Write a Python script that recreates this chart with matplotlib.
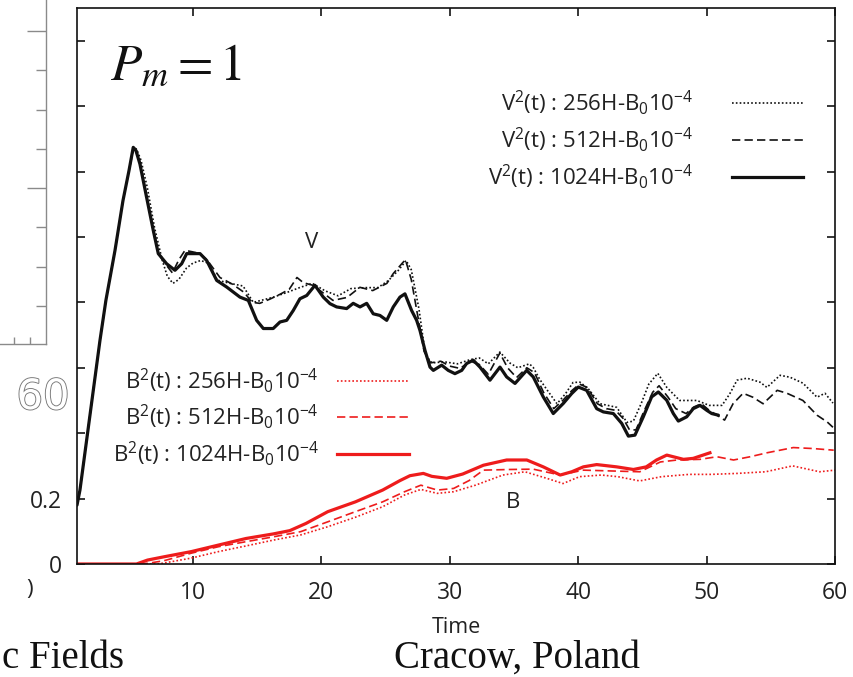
import matplotlib
matplotlib.use("Agg")
import matplotlib.pyplot as plt
import matplotlib.patheffects as pe
from matplotlib.lines import Line2D

plt.rcParams['font.family'] = ['Open Sans', 'DejaVu Sans']
plt.rcParams['mathtext.fontset'] = 'custom'
plt.rcParams['mathtext.rm'] = 'Open Sans'
plt.rcParams['mathtext.it'] = 'Open Sans:italic'
plt.rcParams['mathtext.bf'] = 'Open Sans:bold'

# ---------------------------------------------------------------- data
# kinetic energy V^2(t), (time, value)
v256 = [(0.97, 0.180), (1.2, 0.226), (1.98, 0.455), (2.76, 0.684), (3.22, 0.806),
        (3.93, 0.959), (4.55, 1.111), (5.02, 1.203), (5.40, 1.274), (5.62, 1.268),
        (5.95, 1.235), (6.45, 1.150), (7.0, 1.030), (7.6, 0.930), (8.0, 0.880),
        (8.44, 0.858), (8.9, 0.870), (9.5, 0.905), (10.0, 0.920), (10.6, 0.928),
        (11.2, 0.920), (11.9, 0.868), (12.9, 0.858), (13.9, 0.850), (14.7, 0.800),
        (15.2, 0.805), (16.2, 0.815), (17.3, 0.830), (18.3, 0.845), (19.3, 0.858),
        (20.3, 0.835), (21.3, 0.820), (22.3, 0.842), (23.4, 0.845), (24.4, 0.845),
        (25.2, 0.866), (26.0, 0.898), (26.6, 0.928), (27.0, 0.900), (27.6, 0.780),
        (28.1, 0.640), (28.6, 0.615), (29.6, 0.618), (30.6, 0.612), (31.6, 0.625),
        (32.3, 0.630), (33.0, 0.612), (33.9, 0.648), (34.7, 0.614), (35.3, 0.600),
        (36.2, 0.612), (36.5, 0.601), (37.0, 0.565), (37.6, 0.531), (38.35, 0.490),
        (39.0, 0.520), (39.6, 0.555), (40.14, 0.556), (40.8, 0.535), (41.7, 0.490),
        (42.3, 0.485), (43.0, 0.479), (43.8, 0.433), (44.3, 0.437), (44.9, 0.490),
        (45.5, 0.550), (46.2, 0.583), (46.9, 0.540), (47.9, 0.500), (49.25, 0.500),
        (50.2, 0.485), (51.2, 0.485), (51.8, 0.520), (52.37, 0.562), (53.15, 0.568),
        (54.16, 0.556), (54.7, 0.540), (55.72, 0.577), (56.5, 0.571), (57.5, 0.553),
        (58.6, 0.510), (59.22, 0.522), (59.84, 0.492)]

v512 = [(0.97, 0.180), (1.2, 0.226), (1.98, 0.455), (2.76, 0.684), (3.22, 0.806),
        (3.93, 0.959), (4.55, 1.111), (5.02, 1.203), (5.38, 1.274), (5.6, 1.265),
        (5.9, 1.225), (6.4, 1.125), (6.9, 1.020), (7.3, 0.950), (7.8, 0.920),
        (8.4, 0.890), (8.9, 0.930), (9.38, 0.959), (9.9, 0.955), (10.5, 0.950),
        (11.1, 0.930), (12.1, 0.876), (13.1, 0.855), (14.0, 0.830), (14.6, 0.800),
        (15.2, 0.797), (16.0, 0.810), (16.8, 0.825), (17.5, 0.840), (18.1, 0.876),
        (18.6, 0.860), (19.35, 0.852), (20.1, 0.830), (20.9, 0.806), (22.0, 0.815),
        (23.0, 0.846), (24.0, 0.836), (25.1, 0.858), (25.6, 0.888), (26.35, 0.922),
        (26.55, 0.930), (27.0, 0.870), (27.5, 0.760), (28.0, 0.650), (28.5, 0.615),
        (29.3, 0.620), (30.0, 0.605), (30.8, 0.598), (31.6, 0.620), (32.3, 0.610),
        (33.0, 0.580), (33.9, 0.645), (34.5, 0.600), (35.2, 0.570), (36.0, 0.600),
        (36.6, 0.585), (37.3, 0.525), (38.1, 0.475), (38.8, 0.500), (39.5, 0.530),
        (40.1, 0.550), (40.7, 0.540), (41.5, 0.490), (42.2, 0.475), (42.9, 0.470),
        (43.5, 0.445), (44.0, 0.410), (44.5, 0.410), (45.1, 0.465), (45.8, 0.525),
        (46.3, 0.545), (47.0, 0.510), (47.6, 0.475), (48.4, 0.460), (49.0, 0.480),
        (49.6, 0.490), (50.2, 0.470), (51.04, 0.449), (51.4, 0.440), (52.06, 0.490),
        (52.84, 0.522), (53.6, 0.510), (54.4, 0.490), (55.5, 0.531), (56.26, 0.522),
        (57.5, 0.500), (58.6, 0.455), (59.4, 0.434), (59.84, 0.418)]

v1024 = [(0.97, 0.180), (1.2, 0.226), (1.98, 0.455), (2.76, 0.684), (3.22, 0.806),
         (3.93, 0.959), (4.55, 1.111), (5.02, 1.203), (5.35, 1.274), (5.56, 1.264),
         (5.87, 1.223), (6.39, 1.121), (6.91, 1.020), (7.30, 0.949), (7.95, 0.918),
         (8.60, 0.898), (9.12, 0.918), (9.51, 0.949), (10.55, 0.949), (11.07, 0.928),
         (11.85, 0.867), (12.62, 0.847), (13.66, 0.816), (14.31, 0.806), (14.96, 0.745),
         (15.48, 0.720), (16.25, 0.720), (16.78, 0.740), (17.30, 0.745), (17.81, 0.775),
         (18.33, 0.811), (18.86, 0.821), (19.50, 0.852), (20.15, 0.816), (20.67, 0.796),
         (21.19, 0.786), (21.97, 0.781), (22.48, 0.797), (23.01, 0.786), (23.53, 0.797),
         (24.04, 0.765), (24.56, 0.760), (25.09, 0.745), (25.60, 0.786), (26.12, 0.816),
         (26.51, 0.826), (27.03, 0.775), (27.42, 0.745), (27.68, 0.714), (28.07, 0.653),
         (28.46, 0.602), (28.72, 0.592), (29.37, 0.608), (29.88, 0.592), (30.40, 0.582),
         (30.93, 0.592), (31.31, 0.613), (31.83, 0.623), (32.35, 0.602), (33.13, 0.562),
         (33.91, 0.602), (34.43, 0.572), (35.08, 0.552), (35.99, 0.592), (36.50, 0.572),
         (37.28, 0.511), (38.06, 0.460), (38.84, 0.491), (39.49, 0.521), (40.01, 0.541),
         (40.66, 0.531), (41.44, 0.475), (41.96, 0.465), (42.74, 0.460), (43.39, 0.430),
         (43.91, 0.391), (44.42, 0.394), (45.07, 0.450), (45.72, 0.511), (46.24, 0.526),
         (46.89, 0.501), (47.41, 0.460), (47.80, 0.437), (48.45, 0.450), (48.96, 0.475),
         (49.49, 0.485), (50.01, 0.470), (50.40, 0.460), (50.92, 0.455)]

# magnetic energy B^2(t), (time, value)
b256 = [(0.97, 0.0), (7.2, 0.0), (7.74, 0.003), (9.86, 0.018), (12.0, 0.038),
        (14.1, 0.055), (16.26, 0.073), (18.4, 0.089), (20.5, 0.114), (22.65, 0.143),
        (24.77, 0.175), (26.48, 0.211), (27.75, 0.228), (29.03, 0.216), (30.3, 0.221),
        (32.0, 0.241), (34.14, 0.272), (35.85, 0.282), (37.55, 0.262), (38.82, 0.246),
        (40.1, 0.267), (41.8, 0.272), (43.08, 0.267), (44.79, 0.254), (46.49, 0.267),
        (48.63, 0.274), (50.33, 0.274), (52.4, 0.277), (54.6, 0.282), (56.7, 0.300),
        (58.8, 0.282), (60.0, 0.287)]

b512 = [(0.97, 0.0), (6.0, 0.0), (6.8, 0.004), (7.74, 0.010), (9.86, 0.033),
        (12.0, 0.053), (14.1, 0.068), (16.26, 0.083), (18.4, 0.099), (20.5, 0.129),
        (22.65, 0.160), (24.77, 0.190), (26.48, 0.221), (27.75, 0.241), (29.03, 0.226),
        (30.3, 0.231), (31.5, 0.255), (32.62, 0.287), (34.7, 0.289), (36.5, 0.290),
        (38.6, 0.272), (40.4, 0.287), (43.0, 0.284), (44.8, 0.282), (46.4, 0.312),
        (47.7, 0.318), (49.5, 0.320), (50.8, 0.328), (52.1, 0.318), (53.4, 0.328),
        (54.7, 0.340), (56.75, 0.356), (58.3, 0.353), (59.9, 0.348)]

b1024 = [(0.97, 0.0), (5.6, 0.0), (6.46, 0.012), (7.74, 0.022), (9.88, 0.038),
         (12.0, 0.058), (14.13, 0.078), (16.26, 0.092), (17.54, 0.102), (18.8, 0.124),
         (20.5, 0.160), (22.65, 0.190), (24.77, 0.226), (26.12, 0.255), (26.9, 0.270),
         (27.94, 0.277), (28.6, 0.268), (29.76, 0.262), (31.0, 0.275), (32.62, 0.302),
         (34.43, 0.318), (36.0, 0.318), (37.28, 0.297), (38.6, 0.272), (39.5, 0.282),
         (40.4, 0.297), (41.44, 0.304), (43.0, 0.297), (44.3, 0.289), (45.3, 0.297),
         (46.1, 0.318), (46.9, 0.333), (48.2, 0.320), (48.96, 0.323), (50.26, 0.340)]

v_labels = [r"V$^2$(t) : 256H-B$_0$10$^{-4}$",
            r"V$^2$(t) : 512H-B$_0$10$^{-4}$",
            r"V$^2$(t) : 1024H-B$_0$10$^{-4}$"]
b_labels = [r"B$^2$(t) : 256H-B$_0$10$^{-4}$",
            r"B$^2$(t) : 512H-B$_0$10$^{-4}$",
            r"B$^2$(t) : 1024H-B$_0$10$^{-4}$"]

x_ticks = [10, 20, 30, 40, 50, 60]
x_tick_labels = ["10", "20", "30", "40", "50", "60"]
y_ticks = [0, 0.2, 0.4, 0.6, 0.8, 1.0, 1.2, 1.4, 1.6]
y_tick_labels = ["0", "0.2", "", "", "", "", "", "", ""]

# ---------------------------------------------------------------- styles
BLACK = "#111111"
RED = "#ee1c1c"
TEXT = "#222222"
style_256 = dict(linestyle=(0, (1, 1.3)), linewidth=1.2)
style_512 = dict(linestyle=(0, (5, 2.5)), linewidth=1.2)
style_1024 = dict(linestyle="-", linewidth=2.3)

W, H = 854, 677
fig = plt.figure(figsize=(W / 100, H / 100), dpi=100)


def fx(px):
    return px / W


def fy(py):
    return 1 - py / H


# part of a neighbouring panel on the left
GRAY = "#8a8a8a"
axl = fig.add_axes([0, fy(344), fx(46), fy(0) - fy(344)])
axl.set_xlim(-0.875, 2)
axl.set_ylim(-3.97, 4.79)
axl.patch.set_alpha(0)
for s in ("left", "top"):
    axl.spines[s].set_visible(False)
for s in ("right", "bottom"):
    axl.spines[s].set_color(GRAY)
    axl.spines[s].set_linewidth(1.0)
axl.yaxis.tick_right()
axl.set_yticks([0, 4])
axl.set_yticks([-3, -2, -1, 1, 2, 3], minor=True)
axl.set_xticks([0, 1])
axl.tick_params(axis="y", which="major", direction="in", length=14, width=1,
                color=GRAY, labelright=False)
axl.tick_params(axis="y", which="minor", direction="in", length=7, width=1, color=GRAY)
axl.tick_params(axis="x", direction="in", length=5, width=1, color=GRAY, labelbottom=False)

# main panel
ax = fig.add_axes([fx(77), fy(564), fx(835) - fx(77), fy(8) - fy(564)])
ax.set_xlim(0.97, 60)
ax.set_ylim(0, 1.70)

for pts, st in ((v256, style_256), (v512, style_512), (v1024, style_1024)):
    t, v = zip(*pts)
    ax.plot(t, v, color=BLACK, solid_capstyle="round", **st)
for pts, st in ((b256, style_256), (b512, style_512), (b1024, style_1024)):
    t, v = zip(*pts)
    ax.plot(t, v, color=RED, **st)

ax.set_xticks(x_ticks)
ax.set_xticklabels(x_tick_labels)
ax.set_yticks(y_ticks)
ax.set_yticklabels(y_tick_labels)
ax.tick_params(direction="in", top=True, right=True, length=6, width=1.1,
               labelsize=16.5, labelcolor=TEXT)
ax.tick_params(axis="x", pad=12)
ax.tick_params(axis="y", pad=11)
for s in ax.spines.values():
    s.set_linewidth(1.2)
    s.set_color(BLACK)
ax.set_xlabel("Time", fontsize=15.5, labelpad=9, color=TEXT)

fig.text(fx(312), fy(242), "V", fontsize=16, ha="center", va="center", color=TEXT)
fig.text(fx(513), fy(503), "B", fontsize=16, ha="center", va="center", color=TEXT)


# legends: text to the left of the sample line
def legend_rows(labels, color, text_right, x1, x2, rows):
    for lab, st, y in zip(labels, (style_256, style_512, style_1024), rows):
        fig.text(fx(text_right), fy(y), lab, fontsize=16, ha="right", va="center",
                 color=TEXT)
        fig.add_artist(Line2D([fx(x1), fx(x2)], [fy(y), fy(y)], color=color,
                              transform=fig.transFigure, **st))


legend_rows(v_labels, BLACK, 693, 732, 803, (103, 140, 177))
legend_rows(b_labels, RED, 319, 337, 409, (381, 417, 454))

# P_m = 1
fig.text(fx(110), fy(80), r"$P_m = 1$", fontsize=37, ha="left", va="baseline",
         math_fontfamily="stix", color=BLACK)

# slide decoration around the panel
fig.text(fx(30), fy(590), ")", fontsize=16, ha="center", va="center", color=TEXT)
fig.text(fx(43), fy(397), "60", fontsize=30, ha="center", va="center", color="white",
         family="DejaVu Sans",
         path_effects=[pe.withStroke(linewidth=1.3, foreground="#777777")])
fig.text(fx(2), fy(668), "c Fields", fontsize=28, ha="left", va="baseline",
         family="Liberation Serif", color=BLACK)
fig.text(fx(394), fy(668), "Cracow, Poland", fontsize=28, ha="left", va="baseline",
         family="Liberation Serif", color=BLACK)

fig.savefig("out.png", dpi=100)
